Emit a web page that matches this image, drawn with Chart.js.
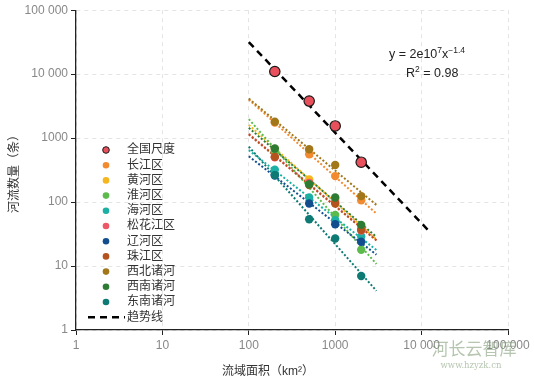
<!DOCTYPE html>
<html>
<head>
<meta charset="utf-8">
<title>河流数量与流域面积</title>
<script src="https://cdn.jsdelivr.net/npm/chart.js"></script>
<style>
  html, body { margin: 0; padding: 0; background: #fff; }
  #wrap { width: 534px; height: 385px; position: relative; }
</style>
</head>
<body>
<div id="wrap"><canvas id="riverChart"></canvas></div>
<script>
// 流域面积阈值 (km²)
const areas = [200, 500, 1000, 2000];

// 河流数量（条），按区读取
const national = [11000, 3800, 1550, 420];
const changjiang = [1750, 560, 255, 107];
const huanghe = [680, 225, 110, 40];
const huaihe = [620, 190, 63, 18];
const haihe = [320, 118, 52, 29];
const songhuajiang = [500, 200, 100, 36];
const liaohe = [260, 95, 45, 24];
const zhujiang = [510, 185, 95, 37];
const xibei = [1800, 670, 380, 124];
const xinan = [690, 190, 118, 44];
const dongnan = [264, 54, 27, 7];

const regionNames = ['长江区', '黄河区', '淮河区', '海河区', '松花江区', '辽河区', '珠江区', '西北诸河', '西南诸河', '东南诸河'];
const regionData = [changjiang, huanghe, huaihe, haihe, songhuajiang, liaohe, zhujiang, xibei, xinan, dongnan];
const regionColors = ['#f28a30', '#f5b61e', '#5cbb4c', '#1bb0a3', '#ec5866', '#124e8e', '#b4531d', '#a2771a', '#2e7b33', '#0d7a74'];

// 趋势线 y = 2e10^7 x^-1.4 的两端
const trendX = [100, 12000];
const trendY = [31700, 36];
// 分区拟合线的面积范围
const fitRange = [100, 3000];

// 坐标刻度
const tickValues = [1, 10, 100, 1000, 10000, 100000];
const tickLabels = ['1', '10', '100', '1000', '10 000', '100 000'];

const FONT = "'Liberation Sans', 'Noto Sans CJK SC', sans-serif";

// log-log least squares fit for each region's dotted line
function fitLine(xs, ys) {
    const lx = xs.map(Math.log10), ly = ys.map(Math.log10);
    const n = lx.length;
    const mx = lx.reduce((a, b) => a + b, 0) / n;
    const my = ly.reduce((a, b) => a + b, 0) / n;
    let sxy = 0, sxx = 0;
    for (let i = 0; i < n; i++) {
        sxy += (lx[i] - mx) * (ly[i] - my);
        sxx += (lx[i] - mx) * (lx[i] - mx);
    }
    const k = sxy / sxx;
    return fitRange.map(x => ({ x: x, y: Math.pow(10, my + k * (Math.log10(x) - mx)) }));
}

const datasets = [];

regionData.forEach((vals, i) => {
    datasets.push({
        type: 'line',
        label: regionNames[i] + ' 拟合',
        data: fitLine(areas, vals),
        borderColor: regionColors[i],
        borderWidth: 2,
        borderDash: [2, 2],
        pointRadius: 0,
        fill: false,
        order: 40 - i
    });
});

regionData.forEach((vals, i) => {
    datasets.push({
        type: 'scatter',
        label: regionNames[i],
        data: areas.map((a, j) => ({ x: a, y: vals[j] })),
        backgroundColor: regionColors[i],
        borderColor: regionColors[i],
        borderWidth: 0,
        pointRadius: 4.2,
        order: 20 - i
    });
});

datasets.push({
    type: 'line',
    label: '趋势线',
    data: trendX.map((x, j) => ({ x: x, y: trendY[j] })),
    borderColor: '#000',
    borderWidth: 2.5,
    borderDash: [7, 5],
    pointRadius: 0,
    fill: false,
    order: 2
});

datasets.push({
    type: 'scatter',
    label: '全国尺度',
    data: areas.map((a, j) => ({ x: a, y: national[j] })),
    backgroundColor: '#e8505c',
    borderColor: '#1a1a1a',
    borderWidth: 1.2,
    pointRadius: 5.2,
    order: 0
});

// legend, equation, axis titles, watermark
const decorPlugin = {
    id: 'decor',
    afterDraw(chart) {
        const ctx = chart.ctx;
        ctx.save();

        // legend
        const items = [{ name: '全国尺度', color: '#e8505c', edge: true }];
        regionNames.forEach((n, i) => items.push({ name: n, color: regionColors[i] }));
        items.push({ name: '趋势线', trend: true });
        const lx = 106, tx = 127, y0 = 150, step = 15.2;
        ctx.font = '12px ' + FONT;
        ctx.textBaseline = 'middle';
        ctx.textAlign = 'left';
        items.forEach((it, i) => {
            const y = y0 + i * step;
            if (it.trend) {
                ctx.strokeStyle = '#000';
                ctx.lineWidth = 2.5;
                ctx.setLineDash([7, 5]);
                ctx.beginPath();
                ctx.moveTo(88, y);
                ctx.lineTo(125, y);
                ctx.stroke();
                ctx.setLineDash([]);
            } else {
                ctx.beginPath();
                ctx.arc(lx, y, 3.3, 0, Math.PI * 2);
                ctx.fillStyle = it.color;
                ctx.fill();
                if (it.edge) {
                    ctx.lineWidth = 1;
                    ctx.strokeStyle = '#1a1a1a';
                    ctx.stroke();
                }
            }
            ctx.fillStyle = '#333';
            ctx.fillText(it.name, tx, y);
        });

        // equation
        ctx.fillStyle = '#222';
        ctx.textBaseline = 'alphabetic';
        let x = 389;
        const base1 = 58;
        const parts = [['y = 2e10', 12.5, 0], ['7', 8.5, -5], ['x', 12.5, 0], ['−1.4', 8.5, -5]];
        parts.forEach(p => {
            ctx.font = p[1] + 'px ' + FONT;
            ctx.fillText(p[0], x, base1 + p[2]);
            x += ctx.measureText(p[0]).width;
        });
        x = 406;
        const base2 = 77;
        [['R', 12.5, 0], ['2', 8.5, -5], [' = 0.98', 12.5, 0]].forEach(p => {
            ctx.font = p[1] + 'px ' + FONT;
            ctx.fillText(p[0], x, base2 + p[2]);
            x += ctx.measureText(p[0]).width;
        });

        // axis titles
        ctx.fillStyle = '#333';
        ctx.font = '12px ' + FONT;
        ctx.textAlign = 'center';
        ctx.textBaseline = 'middle';
        ctx.fillText('流域面积（km²）', 268, 372);
        ctx.save();
        ctx.translate(15, 171);
        ctx.rotate(-Math.PI / 2);
        ctx.fillText('河流数量（条）', 0, 0);
        ctx.restore();

        // watermark
        ctx.fillStyle = 'rgba(120, 150, 110, 0.55)';
        ctx.font = "17px 'Noto Sans CJK SC', serif";
        ctx.fillText('河长云智库', 474, 349);
        ctx.font = "8.5px 'DejaVu Serif', serif";
        ctx.fillText('www.hzyzk.cn', 471, 366);

        ctx.restore();
    }
};

function tickText(v) {
    const i = tickValues.indexOf(v);
    return i >= 0 ? tickLabels[i] : '';
}

function axisOpts(min, max) {
    return {
        type: 'logarithmic',
        min: min,
        max: max,
        afterBuildTicks: s => { s.ticks = tickValues.map(v => ({ value: v })); },
        ticks: {
            callback: v => tickText(v),
            color: '#888',
            font: { family: FONT, size: 12 },
            autoSkip: false,
            maxRotation: 0,
            padding: 3
        },
        grid: {
            color: '#e4e4e4',
            lineWidth: 1,
            tickColor: '#222',
            tickLength: 5
        },
        border: { color: '#222', width: 1.3, dash: [4, 4] }
    };
}

const xAxis = axisOpts(1, 100000);
xAxis.afterFit = s => { s.height = 55; };
const yAxis = axisOpts(1, 100000);
yAxis.afterFit = s => { s.width = 76; };

new Chart(document.getElementById('riverChart'), {
    data: { datasets: datasets },
    options: {
        responsive: true,
        maintainAspectRatio: false,
        animation: false,
        layout: { padding: { left: 0, right: 26, top: 10, bottom: 0 } },
        scales: { x: xAxis, y: yAxis },
        plugins: {
            legend: { display: false },
            tooltip: { enabled: false }
        }
    },
    plugins: [decorPlugin]
});
</script>
</body>
</html>
